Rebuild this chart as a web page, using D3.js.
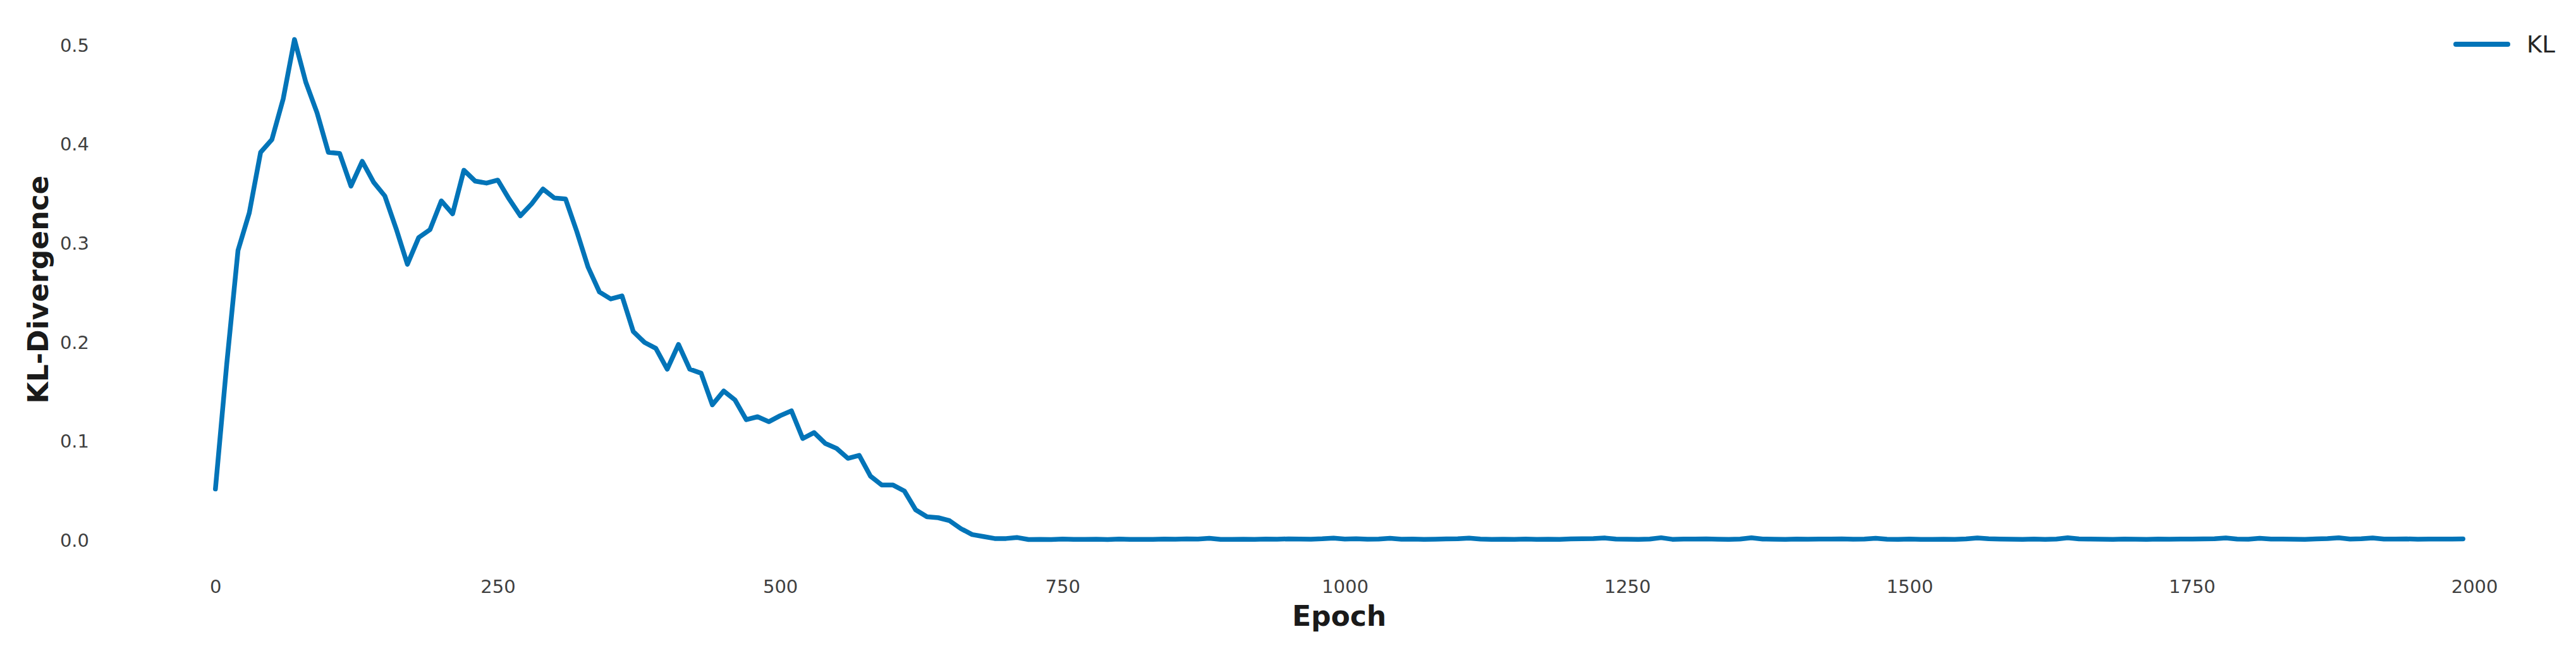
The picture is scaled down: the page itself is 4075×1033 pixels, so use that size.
<!DOCTYPE html>
<html>
<head>
<meta charset="utf-8">
<script src="https://cdn.jsdelivr.net/npm/d3@7"></script>
<style>
  html, body { margin: 0; padding: 0; background: #fff; }
  svg { display: block; font-family: 'DejaVu Sans', sans-serif; }
</style>
</head>
<body>
<div id="chart"></div>
<script>
// KL divergence per epoch, logged every 10 epochs (0 .. 1990)
const EPOCH_STEP = 10;
const KL_EARLY = [
  0.052, 0.178, 0.293, 0.331, 0.392, 0.405, 0.446, 0.506, 0.463, 0.432,
  0.392, 0.391, 0.358, 0.383, 0.362, 0.348, 0.315, 0.279, 0.306, 0.314,
  0.343, 0.330, 0.374, 0.363, 0.361, 0.364, 0.345, 0.328, 0.340, 0.355,
  0.346, 0.345, 0.312, 0.276, 0.251, 0.244, 0.247, 0.211, 0.200, 0.194,
  0.173, 0.198, 0.173, 0.169, 0.137, 0.151, 0.142, 0.122, 0.125, 0.120,
  0.126, 0.131, 0.103, 0.109, 0.098, 0.093, 0.083, 0.086, 0.065, 0.056,
  0.056, 0.050, 0.031, 0.024, 0.023, 0.020, 0.012, 0.006, 0.004, 0.002,
  0.002, 0.003, 0.001
];
// epochs 730 .. 1990, flat tail near zero
const KL_TAIL = [
  .0012, .0010, .0015, .0012, .0011, .0013, .0010, .0014, .0012, .0011,
  .0012, .0015, .0013, .0016, .0014, .0022, .0012, .0011, .0013, .0012,
  .0015, .0013, .0016, .0014, .0013, .0017, .0024, .0015, .0018, .0013,
  .0014, .0022, .0013, .0015, .0011, .0013, .0016, .0018, .0024, .0014,
  .0012, .0013, .0011, .0014, .0012, .0013, .0011, .0016, .0018, .0020,
  .0025, .0014, .0013, .0011, .0015, .0028, .0012, .0015, .0014, .0016,
  .0013, .0011, .0014, .0027, .0015, .0013, .0011, .0014, .0013, .0015,
  .0014, .0016, .0013, .0015, .0022, .0013, .0012, .0015, .0012, .0011,
  .0013, .0012, .0016, .0026, .0018, .0015, .0013, .0012, .0014, .0011,
  .0015, .0027, .0016, .0014, .0013, .0012, .0014, .0013, .0012, .0014,
  .0013, .0015, .0014, .0016, .0018, .0026, .0015, .0013, .0022, .0014,
  .0015, .0013, .0012, .0016, .0019, .0027, .0014, .0018, .0026, .0015,
  .0014, .0016, .0013, .0015, .0014, .0015, .0016
];
const X_TICKS = [0, 250, 500, 750, 1000, 1250, 1500, 1750, 2000];
const Y_TICKS = [0.0, 0.1, 0.2, 0.3, 0.4, 0.5];
const SERIES_NAME = 'KL';
const LINE_COLOR = '#0274b8';

const W = 4075, H = 1033;
const plot = { left: 163, right: 4074, top: 23, bottom: 893 };

const kl = KL_EARLY.concat(KL_TAIL).map((v, i) => ({ epoch: i * EPOCH_STEP, value: v }));

// matplotlib-style 5% margins around the data
const xExt = d3.extent(kl, d => d.epoch);
const yExt = d3.extent(kl, d => d.value);
const xPad = (xExt[1] - xExt[0]) * 0.05;
const yPad = (yExt[1] - yExt[0]) * 0.05;

const x = d3.scaleLinear()
  .domain([xExt[0] - xPad, xExt[1] + xPad])
  .range([plot.left, plot.right]);
const y = d3.scaleLinear()
  .domain([yExt[0] - yPad, yExt[1] + yPad])
  .range([plot.bottom, plot.top]);

const svg = d3.select('#chart').append('svg')
  .attr('width', W)
  .attr('height', H);

svg.append('rect').attr('width', W).attr('height', H).attr('fill', '#fff');

// Axes (no spines, no tick marks)
const xAxis = svg.append('g')
  .attr('transform', `translate(0,${plot.bottom})`)
  .call(d3.axisBottom(x).tickValues(X_TICKS).tickSize(0).tickPadding(24).tickFormat(d3.format('d')));
const yAxis = svg.append('g')
  .attr('transform', `translate(${plot.left},0)`)
  .call(d3.axisLeft(y).tickValues(Y_TICKS).tickSize(0).tickPadding(22).tickFormat(d3.format('.1f')));

[xAxis, yAxis].forEach(g => {
  g.select('.domain').remove();
  g.selectAll('text')
    .style('font-family', "'DejaVu Sans', sans-serif")
    .style('font-size', '29px')
    .style('fill', '#404040');
});

// Axis titles
svg.append('text')
  .attr('transform', `translate(76,${(plot.top + plot.bottom) / 2}) rotate(-90)`)
  .attr('text-anchor', 'middle')
  .style('font-size', '44px')
  .style('font-weight', 'bold')
  .style('fill', '#1a1a1a')
  .text('KL-Divergence');

svg.append('text')
  .attr('x', (plot.left + plot.right) / 2)
  .attr('y', 990)
  .attr('text-anchor', 'middle')
  .style('font-size', '44px')
  .style('font-weight', 'bold')
  .style('fill', '#1a1a1a')
  .text('Epoch');

// Series line
const line = d3.line()
  .x(d => x(d.epoch))
  .y(d => y(d.value));

svg.append('path')
  .datum(kl)
  .attr('d', line)
  .attr('fill', 'none')
  .attr('stroke', LINE_COLOR)
  .attr('stroke-width', 7.5)
  .attr('stroke-linejoin', 'round')
  .attr('stroke-linecap', 'round');

// Legend (top right, frameless)
const legend = svg.append('g').attr('transform', 'translate(3885,70)');
legend.append('line')
  .attr('x1', 0).attr('x2', 82)
  .attr('y1', 0).attr('y2', 0)
  .attr('stroke', LINE_COLOR)
  .attr('stroke-width', 8)
  .attr('stroke-linecap', 'round');
legend.append('text')
  .attr('x', 112)
  .attr('y', 13)
  .style('font-size', '37px')
  .style('fill', '#262626')
  .text(SERIES_NAME);
</script>
</body>
</html>
